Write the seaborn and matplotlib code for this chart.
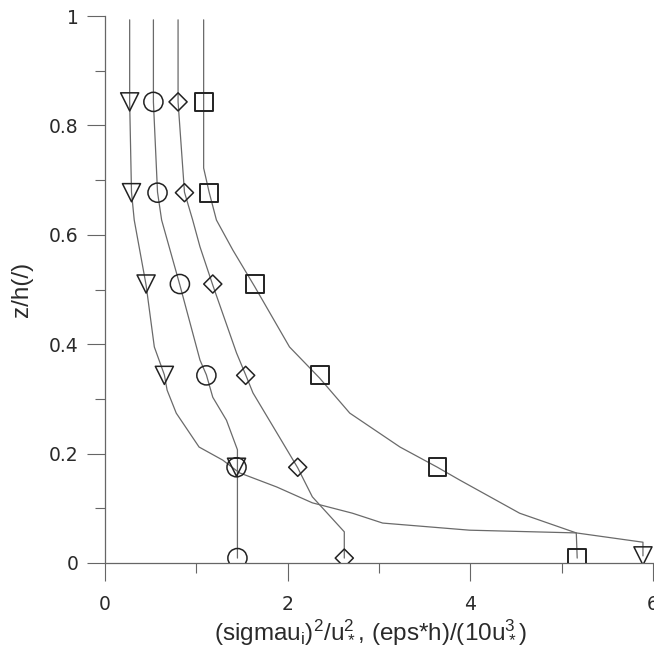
import numpy as np
import pandas as pd
import matplotlib
matplotlib.use('Agg')
import matplotlib.pyplot as plt
import seaborn as sns

# marker heights (z/h) shared by all four profiles
z_pts = [0.843, 0.677, 0.51, 0.343, 0.175, 0.009]

# marker positions
tri_x = [0.27, 0.29, 0.45, 0.65, 1.44, 5.89]
tri_z = [0.843, 0.677, 0.51, 0.343, 0.175, 0.013]
circ_x = [0.53, 0.575, 0.82, 1.11, 1.44, 1.45]
diam_x = [0.80, 0.87, 1.18, 1.54, 2.11, 2.62]
sq_x = [1.08, 1.14, 1.64, 2.35, 3.64, 5.17]

# profile curves (x, z)
tri_line_x = [0.27, 0.27, 0.29, 0.32, 0.45, 0.54, 0.65, 0.68, 0.78, 1.03, 1.29, 1.47,
              1.88, 2.27, 2.71, 3.04, 3.99, 5.16, 5.89, 5.89]
tri_line_z = [0.993, 0.843, 0.678, 0.627, 0.508, 0.395, 0.344, 0.316, 0.274, 0.212, 0.188, 0.165,
              0.139, 0.110, 0.091, 0.073, 0.060, 0.055, 0.038, 0.013]
circ_line_x = [0.53, 0.53, 0.575, 0.62, 0.82, 1.04, 1.11, 1.18, 1.33, 1.45, 1.45]
circ_line_z = [0.993, 0.843, 0.678, 0.627, 0.508, 0.371, 0.344, 0.303, 0.261, 0.207, 0.009]
diam_line_x = [0.80, 0.80, 0.87, 0.96, 1.04, 1.18, 1.44, 1.54, 1.62, 1.91, 2.11, 2.27, 2.62, 2.62]
diam_line_z = [0.993, 0.843, 0.678, 0.627, 0.578, 0.508, 0.384, 0.344, 0.311, 0.230, 0.174, 0.121, 0.057, 0.009]
sq_line_x = [1.08, 1.08, 1.08, 1.14, 1.22, 1.40, 1.64, 2.02, 2.35, 2.68, 3.23, 3.64,
             3.88, 4.54, 5.16, 5.17]
sq_line_z = [0.993, 0.843, 0.722, 0.678, 0.627, 0.572, 0.505, 0.395, 0.338, 0.274, 0.212, 0.175,
             0.152, 0.091, 0.055, 0.009]

xticks = [0, 2, 4, 6]
yticks = [0, 0.2, 0.4, 0.6, 0.8, 1]

sns.set_style('ticks')
plt.rcParams['font.family'] = ['Liberation Sans', 'DejaVu Sans']
plt.rcParams['mathtext.default'] = 'regular'

fig = plt.figure(figsize=(6.54, 6.46), dpi=100)
ax = fig.add_axes([105 / 654, 1 - 563 / 646, 548 / 654, 547 / 646])

line_col = '#6a6a6a'
for lx, lz in [(tri_line_x, tri_line_z), (circ_line_x, circ_line_z),
               (diam_line_x, diam_line_z), (sq_line_x, sq_line_z)]:
    sns.lineplot(x=lx, y=lz, sort=False, estimator=None, color=line_col,
                 linewidth=0.9, ax=ax)

sns.scatterplot(x=tri_x, y=tri_z, marker='v', s=170, facecolor='none',
                edgecolor='#222222', linewidth=1.1, ax=ax, zorder=3)
sns.scatterplot(x=circ_x, y=z_pts, marker='o', s=190, facecolor='none',
                edgecolor='#222222', linewidth=1.1, ax=ax, zorder=3)
sns.scatterplot(x=diam_x, y=z_pts, marker='D', s=85, facecolor='none',
                edgecolor='#222222', linewidth=1.1, ax=ax, zorder=3)
sns.scatterplot(x=sq_x, y=z_pts, marker='s', s=165, facecolor='none',
                edgecolor='#222222', linewidth=1.4, ax=ax, zorder=3)

ax.set_xlim(0, 6)
ax.set_ylim(0, 1)
ax.set_xticks(xticks)
ax.set_xticklabels([str(t) for t in xticks])
ax.set_xticks([1, 3, 5], minor=True)
ax.set_yticks(yticks)
ax.set_yticklabels(['%g' % t for t in yticks])
ax.set_yticks([0.1, 0.3, 0.5, 0.7, 0.9], minor=True)

for s in ['top', 'right']:
    ax.spines[s].set_visible(False)
for s in ['left', 'bottom']:
    ax.spines[s].set_color('#666666')
    ax.spines[s].set_linewidth(0.9)

ax.tick_params(which='major', direction='out', length=13, width=0.8,
               color='#666666', labelcolor='#2a2a2a')
ax.tick_params(which='minor', direction='out', length=7, width=0.8, color='#666666')
ax.tick_params(axis='x', which='major', pad=10)
ax.tick_params(axis='y', which='major', pad=6)
for lab in ax.get_xticklabels() + ax.get_yticklabels():
    lab.set_fontfamily('DejaVu Sans')
    lab.set_fontsize(13.5)

ax.set_xlabel(r'(sigmau$_i$)$^2$/u$_*^2$, (eps*h)/(10u$_*^3$)', fontsize=17.5,
              color='#2a2a2a')
ax.set_ylabel('z/h(/)', fontsize=17.5, color='#2a2a2a')
ax.xaxis.set_label_coords(0.4845, -0.099)
ax.yaxis.set_label_coords(-0.131, 0.5)

fig.savefig('out.png', dpi=100, facecolor='white')
